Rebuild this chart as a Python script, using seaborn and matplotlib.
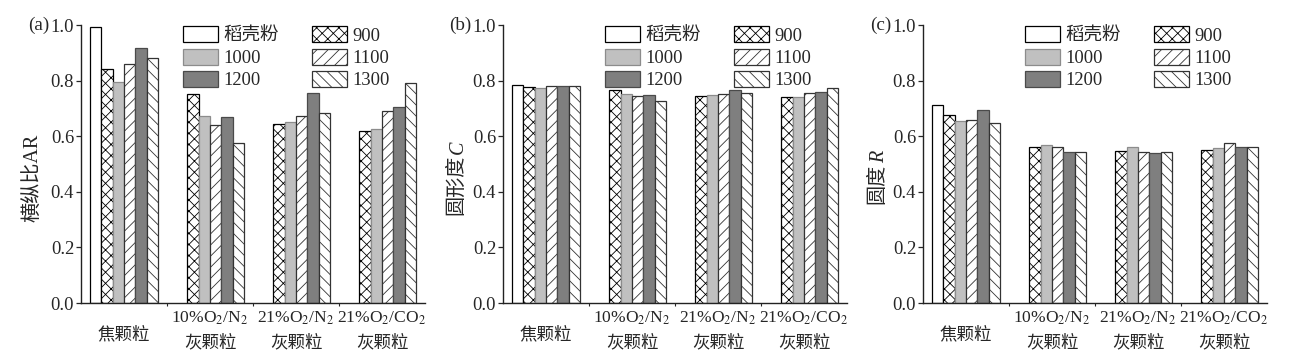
import numpy as np
import pandas as pd
import seaborn as sns
import matplotlib
matplotlib.use("Agg")
import matplotlib.pyplot as plt
from matplotlib.transforms import ScaledTranslation

# ---------------- data ----------------
groups = ["焦颗粒", "10%O$_2$/N$_2$\n灰颗粒", "21%O$_2$/N$_2$\n灰颗粒", "21%O$_2$/CO$_2$\n灰颗粒"]
series = ["稻壳粉", "900", "1000", "1100", "1200", "1300"]

# rows: groups; columns: series (NaN = no bar)
ar_vals = [
    [0.992, 0.840, 0.794, 0.859, 0.918, 0.880],
    [np.nan, 0.751, 0.671, 0.639, 0.668, 0.574],
    [np.nan, 0.643, 0.652, 0.674, 0.754, 0.682],
    [np.nan, 0.620, 0.625, 0.691, 0.704, 0.793],
]
c_vals = [
    [0.784, 0.777, 0.773, 0.779, 0.782, 0.779],
    [np.nan, 0.767, 0.753, 0.744, 0.750, 0.726],
    [np.nan, 0.746, 0.748, 0.752, 0.767, 0.754],
    [np.nan, 0.741, 0.741, 0.755, 0.759, 0.772],
]
r_vals = [
    [0.711, 0.676, 0.654, 0.660, 0.693, 0.649],
    [np.nan, 0.561, 0.569, 0.561, 0.544, 0.542],
    [np.nan, 0.546, 0.562, 0.542, 0.539, 0.544],
    [np.nan, 0.552, 0.557, 0.576, 0.561, 0.561],
]
ylabel_main = ["横纵比AR", "圆形度", "圆度"]
ylabel_ital = ["", "C", "R"]
panel_tags = ["(a)", "(b)", "(c)"]
yticks = [0.0, 0.2, 0.4, 0.6, 0.8, 1.0]

# ---------------- style ----------------
sns.set_theme(style="ticks")
FAM = ["Liberation Serif", "Noto Sans CJK SC"]
plt.rcParams["font.family"] = FAM
plt.rcParams["mathtext.fontset"] = "stix"
plt.rcParams["hatch.linewidth"] = 0.6
FS = 13.3
FS_X = 12.6
FS_YL = 14.5

face = {"稻壳粉": "#ffffff", "900": "#ffffff", "1000": "#c0c0c0",
        "1100": "#ffffff", "1200": "#7f7f7f", "1300": "#ffffff"}
edge = {"稻壳粉": "#000000", "900": "#000000", "1000": "#8c8c8c",
        "1100": "#333333", "1200": "#4a4a4a", "1300": "#333333"}
hatch = {"稻壳粉": "", "900": "xxx", "1000": "", "1100": "///", "1200": "", "1300": "\\\\\\"}

fig = plt.figure(figsize=(13.01, 3.62), dpi=100)
lefts = [81 / 1301, 503 / 1301, 923 / 1301]
width = 344 / 1301
bottom = 1 - 303 / 362
height = (303 - 25) / 362
ylab_off_px = [48, 46, 45]
ylab_center = 0.45

axes = []
ylab_texts = []
for k, vals in enumerate([ar_vals, c_vals, r_vals]):
    ax = fig.add_axes([lefts[k], bottom, width, height])
    axes.append(ax)
    rows = []
    for gi, g in enumerate(groups):
        for si, s in enumerate(series):
            rows.append({"group": g, "series": s, "value": vals[gi][si]})
    df = pd.DataFrame(rows)
    sns.barplot(data=df, x="group", y="value", hue="series",
                order=groups, hue_order=series, palette=face,
                width=0.8, legend=False, ax=ax, errorbar=None)
    handles = {}
    for cont, s in zip(ax.containers, series):
        for p in cont.patches:
            p.set_facecolor(face[s])
            p.set_edgecolor(edge[s])
            p.set_hatch(hatch[s])
            p.set_linewidth(0.9)
        handles[s] = cont
    order = ["稻壳粉", "1000", "1200", "900", "1100", "1300"]
    ax.legend(handles=[handles[s] for s in order], labels=order, ncol=2,
              loc="upper left", bbox_to_anchor=(0.297, 0.995), frameon=False,
              fontsize=FS, handlelength=1.9, handleheight=0.95,
              handletextpad=0.3, labelspacing=0.22, columnspacing=1.75,
              borderpad=0.0, borderaxespad=0.0)

    ax.set_ylim(0, 1.0)
    ax.set_xlim(-0.5, 3.5)
    ax.set_yticks(yticks)
    ax.set_yticklabels([f"{t:.1f}" for t in yticks], fontsize=FS)
    ax.set_ylabel("")
    ax.set_xlabel("")
    ax.set_xticks([0.5, 1.5, 2.5])
    ax.set_xticklabels([])
    ax.set_xticks([0, 1, 2, 3], minor=True)
    ax.set_xticklabels(groups, minor=True, fontsize=FS_X, linespacing=1.6)
    ax.tick_params(axis="x", which="major", length=2, width=0.8, direction="out")
    ax.tick_params(axis="x", which="minor", length=0, pad=5)
    ax.tick_params(axis="y", length=3.5, width=0.9, direction="out", pad=1.5)
    lbl0 = ax.get_xticklabels(minor=True)[0]
    lbl0.set_transform(lbl0.get_transform() + ScaledTranslation(0, -12 / 72, fig.dpi_scale_trans))
    for sp in ["top", "right"]:
        ax.spines[sp].set_visible(False)
    for sp in ["left", "bottom"]:
        ax.spines[sp].set_linewidth(1.0)
        ax.spines[sp].set_color("#222222")
    ax.text(-0.093, 1.0, panel_tags[k], transform=ax.transAxes, ha="right",
            va="center", fontsize=FS + 0.5)
    t = ax.annotate(ylabel_main[k], xy=(0, ylab_center), xycoords="axes fraction",
                    xytext=(-ylab_off_px[k] * 0.72, 0), textcoords="offset points",
                    rotation=90, ha="center", va="center", fontsize=FS_YL)
    ylab_texts.append(t)

# add italic symbol right after the CJK part, and re-centre the pair
fig.canvas.draw()
renderer = fig.canvas.get_renderer()
GAP_OVERLAP = 0  # px
for k, ax in enumerate(axes):
    if not ylabel_ital[k]:
        continue
    t = ylab_texts[k]
    it = ax.annotate(ylabel_ital[k], xy=(0, ylab_center), xycoords="axes fraction",
                     xytext=(-ylab_off_px[k] * 0.72, 0), textcoords="offset points",
                     rotation=90, ha="center", va="bottom", fontsize=FS_YL,
                     fontstyle="italic", family="Liberation Serif")
    H = t.get_window_extent(renderer).height
    h_it = it.get_window_extent(renderer).height
    total = H + h_it - GAP_OVERLAP
    B = -total / 2
    t.xyann = (t.xyann[0], (B + H / 2) * 0.72)
    it.xyann = (it.xyann[0] + 1.0, (B + H - GAP_OVERLAP + 0.5) * 0.72)

fig.savefig("out.png", dpi=100)
